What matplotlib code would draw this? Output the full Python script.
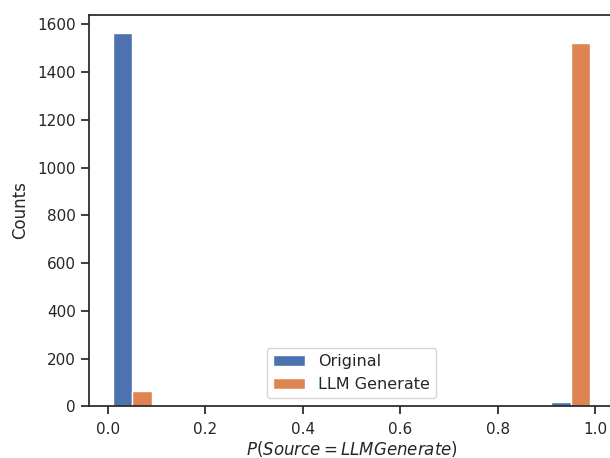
import numpy as np
import matplotlib
matplotlib.use("Agg")
import matplotlib.pyplot as plt
import seaborn as sns

# histogram counts, 10 bins over [0, 1]
bin_edges = [0.0, 0.1, 0.2, 0.3, 0.4, 0.5, 0.6, 0.7, 0.8, 0.9, 1.0]
original_counts = [1562, 0, 0, 0, 0, 0, 0, 0, 0, 19]
llm_counts = [63, 0, 0, 0, 0, 0, 0, 0, 0, 1523]
labels = ["Original", "LLM Generate"]

sns.set_theme(style="ticks")

bin_centers = [(a + b) / 2 for a, b in zip(bin_edges[:-1], bin_edges[1:])]

fig = plt.figure(figsize=(6.1, 4.58), dpi=100)
# axes runs past the right edge, as in the cropped original
ax = fig.add_axes([0.1459, 0.1129, 0.8611, 0.855])

ax.hist([bin_centers, bin_centers], bins=bin_edges,
        weights=[original_counts, llm_counts], label=labels)

ax.set_xlabel("$P(Source = LLM Generate)$", labelpad=2)
ax.set_ylabel("Counts", labelpad=6)
ax.tick_params(axis="x", pad=5)
ax.legend(loc="lower center", fontsize=11.5)

fig.savefig("out.png", dpi=100)
